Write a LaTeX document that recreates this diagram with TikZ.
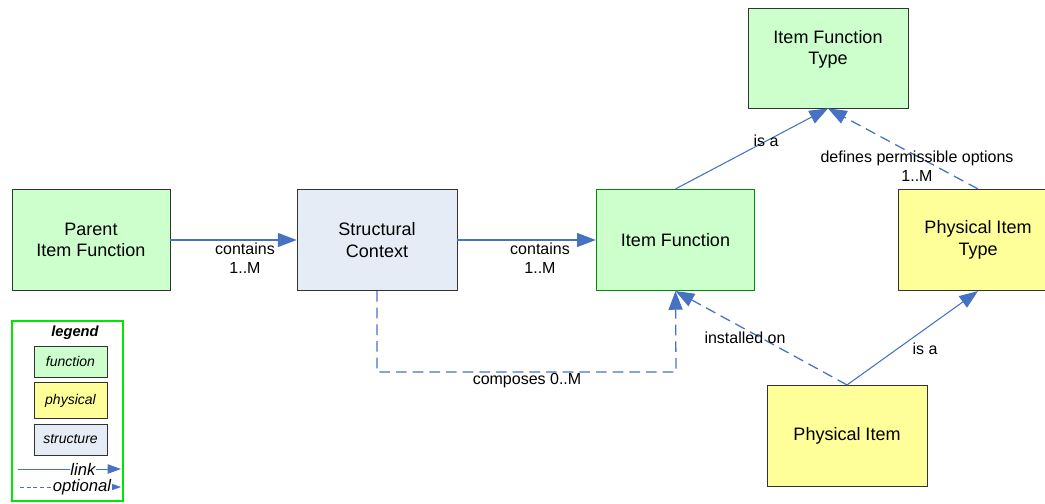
\documentclass[tikz,border=0pt]{standalone}
\usepackage{fontspec}
\setmainfont{Liberation Sans}
\usetikzlibrary{arrows.meta}
\definecolor{fgreen}{RGB}{204,255,204}
\definecolor{fyellow}{RGB}{255,255,153}
\definecolor{fstruct}{RGB}{230,236,246}
\definecolor{lblue}{RGB}{71,114,196}
\definecolor{dgreen}{RGB}{0,140,0}
\definecolor{legendgreen}{RGB}{0,230,0}
\tikzset{
  box/.style={draw=black!80, line width=0.6pt, minimum width=120pt, minimum height=76pt, align=center, font=\fontsize{13.5}{16}\selectfont, inner sep=0pt},
  fun/.style={box, fill=fgreen},
  phys/.style={box, fill=fyellow},
  struc/.style={box, fill=fstruct},
  lbox/.style={draw=black!80, line width=0.5pt, minimum width=55pt, align=center, inner sep=0pt, font=\itshape\fontsize{10.5}{12}\selectfont},
  conn/.style={draw=lblue, line width=0.8pt, -{Triangle[length=14pt,width=10.5pt]}},
  opt/.style={conn, line width=0.95pt, dash pattern=on 8pt off 4.5pt},
  lab/.style={font=\fontsize{12}{14}\selectfont, inner sep=0pt, align=center},
  ltext/.style={font=\itshape\fontsize{12.5}{14}\selectfont, fill=white, inner sep=0.5pt},
}
\begin{document}
\begin{tikzpicture}[x=0.75pt,y=-0.75pt]
\useasboundingbox (0,0) rectangle (1045,503);
% main boxes
\node[fun, minimum width=118.5pt] (pif) at (91,240) {Parent\\Item Function};
\node[struc] (sc) at (377,240) {Structural\\Context};
\node[fun, draw=dgreen, minimum width=119pt] (ifn) at (675.5,240) {Item Function};
\node[fun, minimum height=75pt] (ift) at (828,58) {Item Function\\Type\\\mbox{}};
\node[phys] (pit) at (978,240) {Physical Item\\Type};
\node[phys] (pi) at (847,436) {Physical Item};
% connectors
\draw[conn] (pif.east) -- (sc.west);
\node[lab] (l1) at (245,258) {contains\\1..M};
\draw[conn] (sc.east) -- (ifn.west);
\node[lab] (l2) at (540,258) {contains\\1..M};
\coordinate (c1) at (377,372);
\coordinate (c2) at (676,372);
\draw[opt] (sc.south) -- (c1) -- (c2) -- (ifn.south);
\node[lab] (l3) at (527,381) {composes 0..M};
\draw[conn] (ifn.north) -- (ift.south);
\node[lab] (l4) at (766,141) {is a};
\draw[opt] (pit.north) -- (ift.south);
\node[lab] (l5) at (917,166) {defines permissible options\\1..M};
\draw[opt] (pi.north) -- (ifn.south);
\node[lab] (l6) at (745,338) {installed on};
\draw[conn] (pi.north) -- (pit.south);
\node[lab] (l7) at (925,349) {is a};
% legend
\node[draw=legendgreen, line width=1.5pt, minimum width=83pt, minimum height=135pt, inner sep=0pt] (leg) at (67.5,410.5) {};
\node[font=\bfseries\itshape\fontsize{11}{13}\selectfont, inner sep=0pt] (legt) at (75,333) {legend};
\node[lbox, fill=fgreen, minimum height=23pt] (lf) at (70.5,361.5) {function};
\node[lbox, fill=fyellow, minimum height=27pt] (lp) at (70.5,400.5) {physical};
\node[lbox, fill=fstruct, minimum height=23pt] (ls) at (70.5,439.5) {structure};
\coordinate (ka) at (18,469);
\coordinate (kb) at (121,469);
\draw[conn, line width=0.7pt, -{Triangle[length=10pt,width=7pt]}] (ka) -- (kb);
\node[ltext] (lk) at (83,469) {link};
\coordinate (oa) at (20,487);
\coordinate (ob) at (121,487);
\draw[conn, dash pattern=on 3pt off 2pt, line width=0.5pt, -{Triangle[length=10pt,width=7pt]}] (oa) -- (ob);
\node[ltext] (lo) at (82,487) {optional};
\end{tikzpicture}
\end{document}
